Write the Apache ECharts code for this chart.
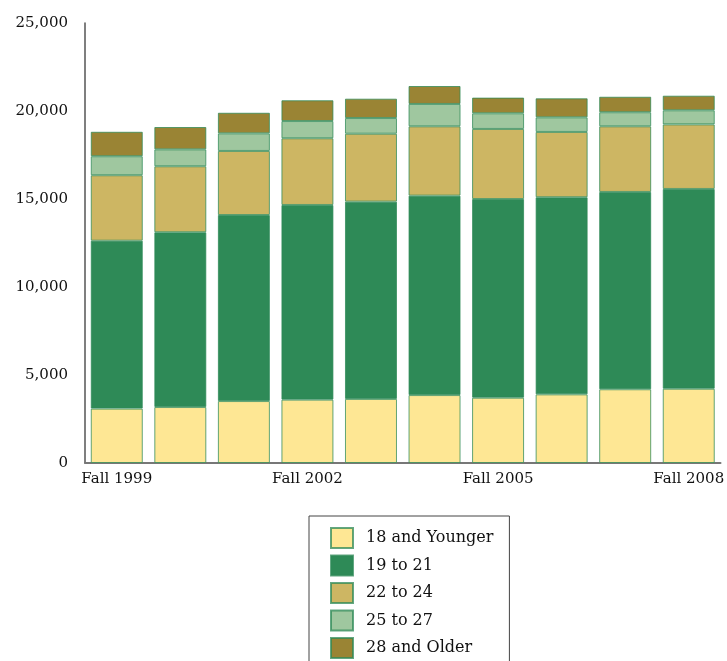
<!DOCTYPE html>
<html><head><meta charset="utf-8">
<script src="https://cdn.jsdelivr.net/npm/echarts@6/dist/echarts.min.js"></script>
<style>html,body{margin:0;padding:0;background:#fff}#c{width:727px;height:661px}</style>
</head><body><div id="c"></div>
<script>
const categories = ['Fall 1999','Fall 2000','Fall 2001','Fall 2002','Fall 2003','Fall 2004','Fall 2005','Fall 2006','Fall 2007','Fall 2008'];
const age18Younger = [3090, 3180, 3520, 3600, 3640, 3860, 3710, 3900, 4190, 4220];
const age19to21   = [9540, 9930, 10570, 11060, 11210, 11330, 11290, 11200, 11210, 11350];
const age22to24   = [3720, 3750, 3640, 3790, 3860, 3940, 3980, 3710, 3730, 3670];
const age25to27   = [1080, 960, 1000, 980, 890, 1270, 890, 830, 800, 800];
const age28Older  = [1390, 1270, 1170, 1180, 1100, 1020, 890, 1080, 880, 830];
const seriesNames = ['18 and Younger','19 to 21','22 to 24','25 to 27','28 and Older'];
const seriesData = [age18Younger, age19to21, age22to24, age25to27, age28Older];
const colors = ['#FEE794','#2E8A57','#CDB663','#9FC79F','#9A8434'];
const font = '"DejaVu Serif", serif';
const chart = echarts.init(document.getElementById('c'));
chart.setOption({
  animation: false,
  grid: {left: 85, right: 3, top: 23, bottom: 198, containLabel: false},
  legend: {
    orient: 'vertical', left: 309, top: 516, height: 200,
    borderColor: '#444', borderWidth: 1,
    padding: [11, 16, 11, 21],
    icon: 'rect',
    itemWidth: 22, itemHeight: 20, itemGap: 5.5,
    textStyle: {fontFamily: font, fontSize: 16, color: '#111', padding: [0, 0, 0, 8]},
    data: seriesNames
  },
  xAxis: {
    type: 'category', data: categories,
    axisLine: {lineStyle: {color: '#777', width: 2}},
    axisTick: {show: false},
    axisLabel: {interval: 2, fontFamily: font, fontSize: 15, color: '#111', margin: 9}
  },
  yAxis: {
    type: 'value', min: 0, max: 25000, interval: 5000,
    axisLine: {show: true, lineStyle: {color: '#555', width: 1.5}},
    axisTick: {show: false},
    splitLine: {show: false},
    axisLabel: {fontFamily: font, fontSize: 15, color: '#111', margin: 17,
      formatter: v => v.toLocaleString('en-US')}
  },
  series: seriesData.map((d, i) => ({
    name: seriesNames[i], type: 'bar', stack: 'total', data: d,
    barWidth: 52,
    itemStyle: {color: colors[i], borderColor: 'rgba(46,138,87,0.75)', borderWidth: 1}
  }))
});
</script></body></html>
